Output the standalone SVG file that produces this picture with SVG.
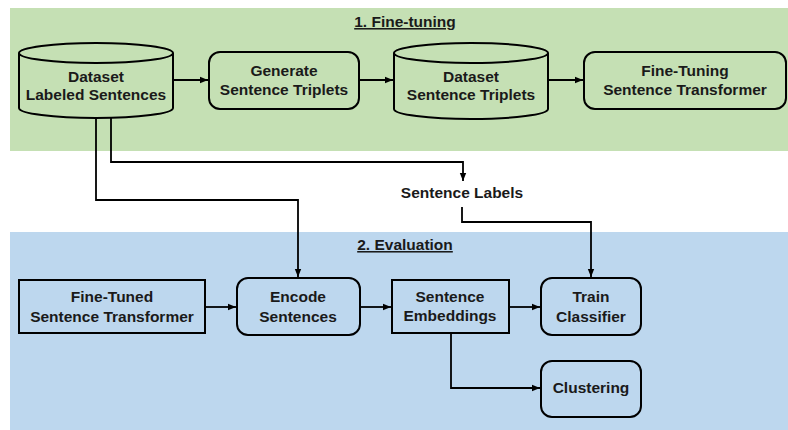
<svg xmlns="http://www.w3.org/2000/svg" width="788" height="430" viewBox="0 0 788 430">
<style>
.node{fill:none;stroke:#000;stroke-width:2}
.lbl{font-family:"Liberation Sans",Arial,sans-serif;font-weight:bold;font-size:15.5px;fill:#1a1a1a;text-anchor:middle}
.title{font-family:"Liberation Sans",Arial,sans-serif;font-weight:bold;font-size:15.5px;fill:#1a1a1a;text-anchor:middle;text-decoration:underline}
.conn{fill:none;stroke:#000;stroke-width:1.8}
</style>
<defs>
<marker id="arr" viewBox="0 0 10 10" refX="10" refY="5" markerWidth="4.5" markerHeight="4.5" orient="auto" markerUnits="strokeWidth">
<path d="M0,1 L10,5 L0,9 Z" fill="#000"/>
</marker>
</defs>
<rect width="788" height="430" fill="#fff"/>
<rect x="10" y="8" width="778" height="143" fill="#C5E0B4"/>
<rect x="10" y="232" width="778" height="198" fill="#BDD7EE"/>
<text class="title" x="405" y="27">1. Fine-tuning</text>
<text class="title" x="405" y="250">2. Evaluation</text>

<g id="connectors">
<path class="conn" d="M173,80 H208" marker-end="url(#arr)"/>
<path class="conn" d="M359,80 H393" marker-end="url(#arr)"/>
<path class="conn" d="M548,80 H583" marker-end="url(#arr)"/>
<path class="conn" d="M111,118 V162 H463 V181" marker-end="url(#arr)"/>
<path class="conn" d="M96,118 V200 H298 V277" marker-end="url(#arr)"/>
<path class="conn" d="M462,207 V222 H591 V277" marker-end="url(#arr)"/>
<path class="conn" d="M205,307 H236" marker-end="url(#arr)"/>
<path class="conn" d="M360,307 H391" marker-end="url(#arr)"/>
<path class="conn" d="M509,307 H540" marker-end="url(#arr)"/>
<path class="conn" d="M451,333 V388 H540" marker-end="url(#arr)"/>
</g>

<g id="dataset-labeled">
<path class="node" d="M19,53 A77,10 0 0 1 173,53 V108 A77,10 0 0 1 19,108 Z M19,53 A77,10 0 0 0 173,53"/>
<text class="lbl" x="96" y="82">Dataset</text>
<text class="lbl" x="96" y="100">Labeled Sentences</text>
</g>
<g id="generate">
<rect class="node" x="209" y="52" width="150" height="57" rx="11"/>
<text class="lbl" x="284" y="76">Generate</text>
<text class="lbl" x="284" y="95">Sentence Triplets</text>
</g>
<g id="dataset-triplets">
<path class="node" d="M394,53 A77,10 0 0 1 548,53 V109 A77,10 0 0 1 394,109 Z M394,53 A77,10 0 0 0 548,53"/>
<text class="lbl" x="471" y="82">Dataset</text>
<text class="lbl" x="471" y="100">Sentence Triplets</text>
</g>
<g id="fine-tuning">
<rect class="node" x="584" y="52" width="202" height="57" rx="11"/>
<text class="lbl" x="685" y="76">Fine-Tuning</text>
<text class="lbl" x="685" y="95">Sentence Transformer</text>
</g>
<g id="sentence-labels">
<text class="lbl" x="462" y="198">Sentence Labels</text>
</g>
<g id="fine-tuned">
<rect class="node" x="19" y="280" width="186" height="53"/>
<text class="lbl" x="112" y="302">Fine-Tuned</text>
<text class="lbl" x="112" y="322">Sentence Transformer</text>
</g>
<g id="encode">
<rect class="node" x="237" y="278" width="123" height="57" rx="11"/>
<text class="lbl" x="298" y="302">Encode</text>
<text class="lbl" x="298" y="322">Sentences</text>
</g>
<g id="embeddings">
<rect class="node" x="392" y="280" width="117" height="53"/>
<text class="lbl" x="450" y="302">Sentence</text>
<text class="lbl" x="450" y="321">Embeddings</text>
</g>
<g id="train">
<rect class="node" x="541" y="278" width="100" height="57" rx="11"/>
<text class="lbl" x="591" y="302">Train</text>
<text class="lbl" x="591" y="322">Classifier</text>
</g>
<g id="clustering">
<rect class="node" x="541" y="361" width="100" height="56" rx="11"/>
<text class="lbl" x="591" y="393">Clustering</text>
</g>
</svg>
